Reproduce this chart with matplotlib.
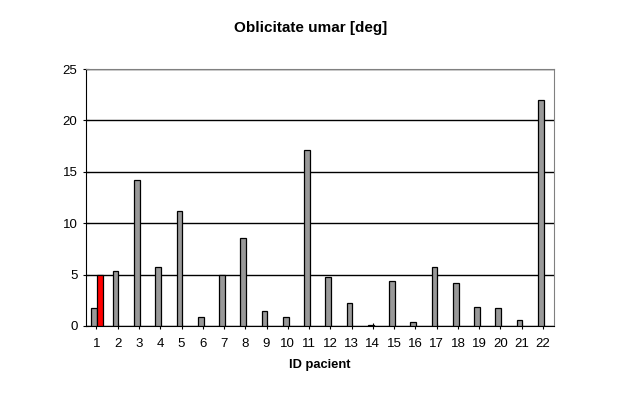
import numpy as np
import matplotlib
matplotlib.use('Agg')
import matplotlib.pyplot as plt

plt.rcParams['font.family'] = ['Liberation Sans', 'DejaVu Sans']

# date
pacienti = [str(i) for i in range(1, 23)]
oblicitate = [1.75, 5.35, 14.2, 5.7, 11.2, 0.85, 5.0, 8.55, 1.45, 0.9, 17.1,
              4.75, 2.2, 0.05, 4.35, 0.35, 5.75, 4.15, 1.85, 1.75, 0.6, 22.0]
# pacientul evidentiat (rosu)
evidentiat = [5.0] + [0] * 21
yticks = [0, 5, 10, 15, 20, 25]

fig = plt.figure(figsize=(6.22, 3.97), dpi=100)
ax = fig.add_axes([0.138, 0.179, 0.752, 0.647])

x = np.arange(len(pacienti))
w = 0.27
ax.bar(x - 0.1, oblicitate, width=w, color='#999999', edgecolor='black',
       linewidth=0.9, zorder=3)
mask = np.array(evidentiat) > 0
ax.bar(x[mask] + 0.16, np.array(evidentiat)[mask], width=w, color='#ff0000',
       edgecolor='black', linewidth=0.9, zorder=3)

ax.set_xlim(-0.5, len(pacienti) - 0.5)
ax.set_ylim(0, 25)
ax.set_yticks(yticks)
ax.set_xticks(x)
ax.set_xticklabels(pacienti)
ax.yaxis.grid(True, color='black', linewidth=1, zorder=0)
ax.set_axisbelow(True)

for s in ['top', 'right']:
    ax.spines[s].set_color('#808080')
for s in ['left', 'bottom']:
    ax.spines[s].set_color('black')
ax.tick_params(axis='both', labelsize=9.5, length=4, color='black', direction='inout')
ax.tick_params(axis='x', pad=7)
ax.tick_params(axis='y', pad=4)

ax.set_xlabel('ID pacient', fontsize=9.3, fontweight='bold', labelpad=6)
fig.text(0.5, 0.929, 'Oblicitate umar [deg]', ha='center', va='center',
         fontsize=11, fontweight='bold')

fig.savefig('out.png', dpi=100)
